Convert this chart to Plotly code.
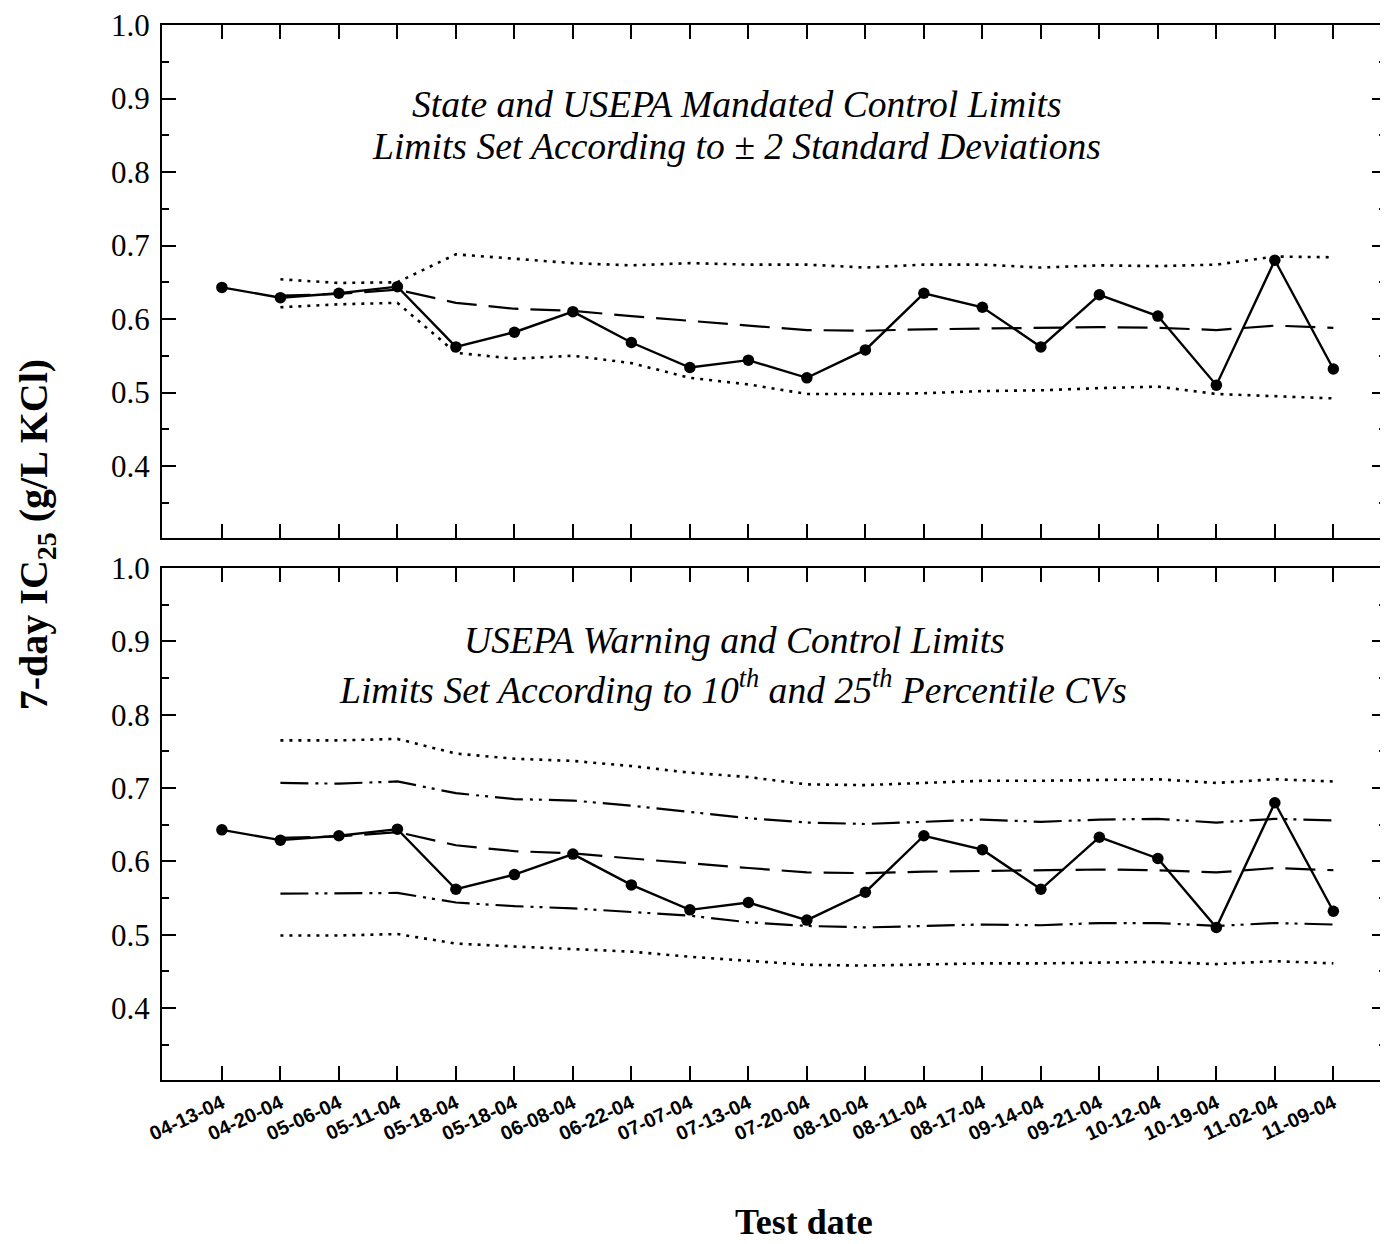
import plotly.graph_objects as go

dates = ["04-13-04", "04-20-04", "05-06-04", "05-11-04", "05-18-04", "05-18-04",
         "06-08-04", "06-22-04", "07-07-04", "07-13-04", "07-20-04", "08-10-04",
         "08-11-04", "08-17-04", "09-14-04", "09-21-04", "10-12-04", "10-19-04",
         "11-02-04", "11-09-04"]
idx = list(range(len(dates)))
lim_idx = idx[1:]

ic25 = [0.643, 0.629, 0.635, 0.644, 0.562, 0.582, 0.610, 0.568, 0.534, 0.544,
        0.520, 0.558, 0.635, 0.616, 0.562, 0.633, 0.604, 0.510, 0.680, 0.532]

mean_line = [0.632, 0.634, 0.640, 0.622, 0.614, 0.611, 0.604, 0.597, 0.591,
             0.585, 0.584, 0.586, 0.587, 0.588, 0.589, 0.588, 0.585, 0.591, 0.588]

# Top panel: +/- 2 SD limits
sd_upper = [0.654, 0.649, 0.650, 0.688, 0.682, 0.676, 0.673, 0.676, 0.674,
            0.674, 0.670, 0.674, 0.674, 0.670, 0.673, 0.672, 0.674, 0.685, 0.684]
sd_lower = [0.616, 0.620, 0.622, 0.554, 0.546, 0.550, 0.540, 0.520, 0.511,
            0.498, 0.498, 0.499, 0.502, 0.503, 0.506, 0.508, 0.498, 0.495, 0.492]

# Bottom panel: percentile CV limits
cv_upper_ctrl = [0.765, 0.765, 0.767, 0.747, 0.740, 0.737, 0.730, 0.721, 0.715,
                 0.705, 0.704, 0.707, 0.710, 0.710, 0.711, 0.712, 0.707, 0.712, 0.709]
cv_upper_warn = [0.707, 0.706, 0.709, 0.693, 0.685, 0.683, 0.676, 0.668, 0.659,
                 0.653, 0.651, 0.654, 0.657, 0.654, 0.657, 0.658, 0.653, 0.658, 0.656]
cv_lower_warn = [0.556, 0.556, 0.557, 0.544, 0.539, 0.536, 0.531, 0.526, 0.517,
                 0.512, 0.510, 0.512, 0.514, 0.513, 0.516, 0.516, 0.512, 0.516, 0.514]
cv_lower_ctrl = [0.499, 0.499, 0.501, 0.488, 0.484, 0.481, 0.477, 0.470, 0.464,
                 0.459, 0.458, 0.460, 0.461, 0.461, 0.462, 0.463, 0.460, 0.464, 0.461]

y_ticks = [0.4, 0.5, 0.6, 0.7, 0.8, 0.9, 1.0]

DOT = "3px,6px"
DASH = "30px,12px"
DASHDOT2 = "28px,7px,3px,6px,3px,7px"

fig = go.Figure()

def add_line(x, y, dash, ax, width=2.2):
    fig.add_trace(go.Scatter(x=x, y=y, mode="lines", xaxis=ax[0], yaxis=ax[1],
                             line=dict(color="black", width=width, dash=dash),
                             showlegend=False, hoverinfo="skip"))

def add_data(ax):
    fig.add_trace(go.Scatter(x=idx, y=ic25, mode="lines+markers", xaxis=ax[0], yaxis=ax[1],
                             line=dict(color="black", width=2.4),
                             marker=dict(color="black", size=11.5),
                             showlegend=False))

top = ("x", "y")
bot = ("x2", "y2")

add_line(lim_idx, sd_upper, DOT, top, 2.6)
add_line(lim_idx, sd_lower, DOT, top, 2.6)
add_line(lim_idx, mean_line, DASH, top)
add_data(top)

add_line(lim_idx, cv_upper_ctrl, DOT, bot, 2.6)
add_line(lim_idx, cv_lower_ctrl, DOT, bot, 2.6)
add_line(lim_idx, cv_upper_warn, DASHDOT2, bot)
add_line(lim_idx, cv_lower_warn, DASHDOT2, bot)
add_line(lim_idx, mean_line, DASH, bot)
add_data(bot)

serif = "Liberation Serif, Times New Roman, serif"

xcommon = dict(range=[-1.024, 19.9], tickvals=idx, ticks="inside", ticklen=14,
               tickwidth=2, tickcolor="black", showline=True, linecolor="black",
               linewidth=2, mirror="ticks", showgrid=False, zeroline=False)
ycommon = dict(range=[0.302, 1.0], tickvals=y_ticks, tickformat=".1f",
               ticks="inside", ticklen=14, tickwidth=2, tickcolor="black",
               showline=True, linecolor="black", linewidth=2, mirror="ticks",
               showgrid=False, zeroline=False, ticklabeloverflow="allow",
               tickfont=dict(family=serif, size=31, color="black"),
               ticklabelstandoff=4,
               minor=dict(dtick=0.05, tick0=0.0, ticks="inside", ticklen=7,
                          tickwidth=2, tickcolor="black", showgrid=False))

# page body has an 8px margin: figure spans page x 8..1388, y 8..1244
fig.update_layout(
    width=1380, height=1236,
    margin=dict(l=154, r=0, t=15, b=164),
    paper_bgcolor="white", plot_bgcolor="white",
    xaxis=dict(**xcommon, domain=[0, 1], anchor="y", showticklabels=False),
    yaxis=dict(**ycommon, domain=[0.5137, 1.0], anchor="x"),
    xaxis2=dict(**xcommon, domain=[0, 1], anchor="y2",
                ticktext=dates, tickangle=-25, ticklabelstandoff=2,
                tickfont=dict(family="Liberation Sans, Arial, sans-serif", size=20,
                              color="black", weight="bold")),
    yaxis2=dict(**ycommon, domain=[0.0, 0.4853], anchor="x2"),
)

def px_x(p):
    return (p - 162) / 1226

def px_y(p):
    return (1080 - p) / 1057

ann_font = dict(family=serif, size=37.6, color="black", style="italic")
notes = [
    ("State and USEPA Mandated Control Limits", 738, 103),
    ("Limits Set According to \u00b1 2 Standard Deviations", 737, 145),
    ("USEPA Warning and Control Limits", 735, 640),
    ("Limits Set According to 10<sup>th</sup> and 25<sup>th</sup> Percentile CVs", 734, 687),
]
for text, cx, cy in notes:
    fig.add_annotation(text=text, x=px_x(cx), y=px_y(cy), xref="paper", yref="paper",
                       xanchor="center", yanchor="middle", showarrow=False, font=ann_font)

fig.add_annotation(text="<b>7-day IC<sub>25</sub> (g/L KCl)</b>", textangle=-90,
                   x=px_x(36), y=px_y(534), xref="paper", yref="paper",
                   xanchor="center", yanchor="middle", showarrow=False,
                   font=dict(family=serif, size=40, color="black"))
fig.add_annotation(text="<b>Test date</b>", x=px_x(805), y=px_y(1222),
                   xref="paper", yref="paper", xanchor="center", yanchor="middle",
                   showarrow=False, font=dict(family=serif, size=36, color="black"))

fig.write_html("out.html")
